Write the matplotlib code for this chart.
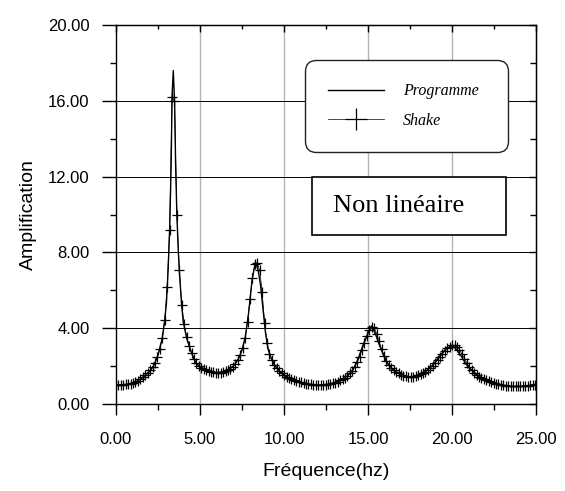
import numpy as np
import matplotlib
matplotlib.use("Agg")
from matplotlib import pyplot as plt
from matplotlib.patches import Rectangle

# Programme result: frequency (hz) / amplification
prog_freq = [0.0, 0.5, 1.0, 1.5, 2.0, 2.25, 2.5, 2.75, 2.9, 3.0,
             3.1, 3.2, 3.28, 3.34, 3.41, 3.49, 3.55, 3.62, 3.7, 3.78,
             3.9, 4.0, 4.2, 4.4, 4.6, 4.8, 5.0, 5.4, 6.0, 6.6,
             7.0, 7.3, 7.5, 7.7, 7.9, 8.1, 8.3, 8.45, 8.6, 8.75,
             8.9, 9.05, 9.25, 9.5, 9.75, 10.0, 10.4, 10.9, 11.5, 12.1,
             12.7, 13.3, 13.8, 14.1, 14.4, 14.7, 15.0, 15.2, 15.4, 15.6,
             15.8, 16.1, 16.5, 17.0, 17.5, 18.0, 18.4, 18.8, 19.2, 19.6,
             20.0, 20.3, 20.6, 20.8, 21.0, 21.4, 21.8, 22.4, 23.0, 23.7,
             24.4, 25.0]
prog_amp = [1.00, 1.02, 1.09, 1.33, 1.72, 2.02, 2.58, 3.45, 4.40, 5.30,
            7.00, 9.40, 12.5, 16.3, 17.6, 15.9, 12.6, 10.1, 8.20, 6.90,
            5.30, 4.35, 3.50, 2.95, 2.45, 2.12, 1.96, 1.80, 1.65, 1.76,
            2.02, 2.40, 2.85, 3.55, 4.85, 6.55, 7.50, 7.10, 6.30, 5.00,
            3.75, 2.90, 2.38, 1.98, 1.72, 1.52, 1.32, 1.15, 1.04, 1.00,
            1.05, 1.22, 1.50, 1.80, 2.35, 3.10, 3.75, 4.12, 3.80, 3.30,
            2.85, 2.22, 1.80, 1.53, 1.43, 1.50, 1.70, 2.00, 2.45, 2.88,
            3.10, 2.85, 2.45, 2.15, 1.92, 1.60, 1.36, 1.15, 1.00, 0.92,
            0.95, 1.05]

# Shake result, one value every shake_df hz starting at 0
shake_df = 0.145
shake_amp = [1.00, 1.00, 1.01, 1.02, 1.03, 1.05, 1.07, 1.10, 1.15, 1.22,
             1.32, 1.42, 1.53, 1.65, 1.78, 1.95, 2.18, 2.50, 2.92, 3.48,
             4.45, 6.20, 9.20, 16.2, 16.0, 10.0, 7.05, 5.25, 4.20, 3.55,
             3.05, 2.70, 2.40, 2.15, 2.00, 1.92, 1.85, 1.80, 1.75, 1.71,
             1.68, 1.66, 1.65, 1.66, 1.68, 1.72, 1.78, 1.86, 1.97, 2.12,
             2.33, 2.60, 2.95, 3.50, 4.35, 5.55, 6.65, 7.40, 7.45, 7.05,
             5.90, 4.30, 3.20, 2.65, 2.30, 2.06, 1.90, 1.76, 1.62, 1.52,
             1.44, 1.38, 1.32, 1.27, 1.22, 1.18, 1.14, 1.10, 1.07, 1.05,
             1.03, 1.01, 1.00, 1.00, 1.00, 1.01, 1.02, 1.04, 1.06, 1.09,
             1.13, 1.18, 1.24, 1.31, 1.39, 1.49, 1.61, 1.76, 1.95, 2.20,
             2.50, 2.85, 3.22, 3.58, 3.88, 4.08, 4.02, 3.72, 3.30, 2.90,
             2.55, 2.28, 2.07, 1.91, 1.79, 1.69, 1.61, 1.55, 1.50, 1.47,
             1.45, 1.44, 1.45, 1.47, 1.51, 1.56, 1.63, 1.71, 1.80, 1.91,
             2.03, 2.17, 2.33, 2.49, 2.65, 2.80, 2.93, 3.03, 3.09, 3.10,
             3.02, 2.86, 2.64, 2.40, 2.17, 1.97, 1.80, 1.66, 1.55, 1.45,
             1.37, 1.30, 1.24, 1.19, 1.14, 1.10, 1.07, 1.04, 1.01, 0.99,
             0.97, 0.95, 0.94, 0.93, 0.93, 0.93, 0.93, 0.94, 0.95, 0.96,
             0.98, 1.00, 1.02]
shake_freq = np.arange(len(shake_amp)) * shake_df

x_ticks = [0, 5, 10, 15, 20, 25]
x_minor = [2.5, 7.5, 12.5, 17.5, 22.5]
y_ticks = [0, 4, 8, 12, 16, 20]
y_minor = [2, 6, 10, 14, 18]

plt.rcParams['font.family'] = ['Liberation Sans', 'DejaVu Sans']

fig = plt.figure(figsize=(5.65, 4.91), dpi=100)
ax = fig.add_axes([0.2053, 0.1772, 0.7434, 0.7718])

ax.set_xlim(0, 25)
ax.set_ylim(0, 20)

# grid: grey verticals, black horizontals
for x in x_ticks[1:-1]:
    ax.axvline(x, color='#b4b4b4', lw=1.0, zorder=0)
for y in y_ticks[1:-1]:
    ax.axhline(y, color='black', lw=0.7, zorder=0)

ax.plot(prog_freq, prog_amp, color='black', lw=1.0, label='Programme', zorder=3)
ax.plot(shake_freq, shake_amp, color='black', lw=0.5, marker='+', ms=7,
        mew=0.9, label='Shake', zorder=3)

ax.set_xticks(x_ticks)
ax.set_xticks(x_minor, minor=True)
ax.set_yticks(y_ticks)
ax.set_yticks(y_minor, minor=True)
ax.set_xticklabels(['%.2f' % v for v in x_ticks])
ax.set_yticklabels(['%.2f' % v for v in y_ticks])
ax.tick_params(axis='x', which='major', direction='out', length=8, width=1, pad=12, labelsize=12)
ax.tick_params(axis='x', which='minor', direction='out', length=4, width=1)
ax.tick_params(axis='y', which='major', direction='out', length=10, width=1, pad=9, labelsize=12)
ax.tick_params(axis='y', which='minor', direction='out', length=4, width=1)
for s in ax.spines.values():
    s.set_linewidth(1.0)

# inward ticks on top and right
top = ax.secondary_xaxis('top')
top.set_xticks(x_ticks)
top.set_xticks(x_minor, minor=True)
top.tick_params(which='major', direction='in', length=5, width=1, labeltop=False)
top.tick_params(which='minor', direction='in', length=3, width=1)
right = ax.secondary_yaxis('right')
right.set_yticks(y_ticks)
right.set_yticks(y_minor, minor=True)
right.tick_params(which='major', direction='in', length=5, width=1, labelright=False)
right.tick_params(which='minor', direction='in', length=4, width=1)

ax.set_xlabel('Fréquence(hz)', fontsize=14, labelpad=12)
ax.set_ylabel('Amplification', fontsize=14, labelpad=8)

leg = ax.legend(loc='upper left', bbox_to_anchor=(0.45, 0.0, 0.483, 0.9077),
                mode='expand', borderaxespad=0, fancybox=True,
                prop={'family': 'Liberation Serif', 'style': 'italic', 'size': 11.5},
                handlelength=3.5, handletextpad=1.2, borderpad=1.45,
                labelspacing=0.85, numpoints=1, markerscale=2.2, framealpha=1)
frame = leg.get_frame()
frame.set_boxstyle('round,pad=0,rounding_size=0.7')
frame.set_edgecolor('#222222')
frame.set_linewidth(1.0)

ax.add_patch(Rectangle((0.4667, 0.4459), 0.4619, 0.153, transform=ax.transAxes,
                       facecolor='white', edgecolor='black', lw=1.2, zorder=4))
ax.text(0.5167, 0.5224, 'Non linéaire', transform=ax.transAxes, ha='left',
        va='center', fontsize=19, family='Liberation Serif', zorder=5)

fig.savefig('out.png', dpi=100)
